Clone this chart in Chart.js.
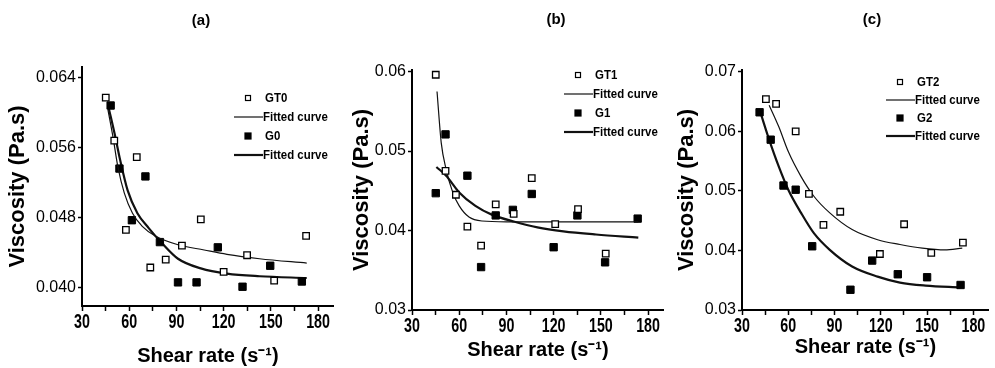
<!DOCTYPE html>
<html>
<head>
<meta charset="utf-8">
<script src="https://cdn.jsdelivr.net/npm/chart.js@4.4.1/dist/chart.umd.min.js"></script>
<style>
  html, body { margin: 0; padding: 0; background: #fff; }
  #wrap { position: relative; width: 995px; height: 368px; overflow: hidden; background: #fff; }
  #wrap canvas { position: absolute; top: 0; }
  .tag { position: absolute; font: bold 15px "Liberation Sans", Arial, sans-serif; color: #000; transform: translate(-50%, -50%); }
</style>
</head>
<body>
<div id="wrap">
  <canvas id="chartA" width="340" height="368" style="left:0px"></canvas>
  <canvas id="chartB" width="340" height="368" style="left:330px"></canvas>
  <canvas id="chartC" width="335" height="368" style="left:660px"></canvas>
  <div class="tag" style="left:201px;top:19px">(a)</div>
  <div class="tag" style="left:556px;top:18px">(b)</div>
  <div class="tag" style="left:872px;top:18px">(c)</div>
</div>
<script>
// shared x axis ticks (labels only on multiples of 30)
const xTicks = [30, 45, 60, 75, 90, 105, 120, 135, 150, 165, 180];

// panel (a)
const gt0X = [45.1, 50.5, 57.9, 64.8, 73.4, 83.2, 93.5, 105.5, 120.0, 134.9, 152.1, 172.4];
const gt0Y = [0.0617, 0.0568, 0.0466, 0.0549, 0.0423, 0.0432, 0.0448, 0.0478, 0.0418, 0.0437, 0.0408, 0.0459];
const g0X = [48.2, 53.8, 61.7, 70.3, 79.5, 91.0, 102.8, 116.3, 132.0, 149.6, 169.7];
const g0Y = [0.0608, 0.0536, 0.0477, 0.0527, 0.0452, 0.0406, 0.0406, 0.0446, 0.0401, 0.0425, 0.0407];
const fitGT0X = [46.5, 49.7, 52.8, 56.9, 62.1, 68.3, 76.6, 91.0, 107.6, 122.1, 142.8, 172.8];
const fitGT0Y = [0.0603, 0.0572, 0.0538, 0.0508, 0.0485, 0.0470, 0.0459, 0.0449, 0.0443, 0.0438, 0.0433, 0.0428];
const fitG0X = [47.0, 50.7, 54.2, 59.0, 65.2, 72.4, 80.7, 91.0, 105.5, 122.1, 142.8, 172.8];
const fitG0Y = [0.0605, 0.0576, 0.0546, 0.0511, 0.0485, 0.0468, 0.0451, 0.0433, 0.0422, 0.0416, 0.0413, 0.0411];
const yTicksA = [0.040, 0.048, 0.056, 0.064];
const yLabelsA = ['0.040', '0.048', '0.056', '0.064'];

// panel (b)
const gt1X = [45.1, 51.3, 57.9, 65.2, 73.9, 83.2, 94.6, 106.1, 121.0, 135.5, 153.1];
const gt1Y = [0.0596, 0.0475, 0.0445, 0.0405, 0.0381, 0.0433, 0.0421, 0.0466, 0.0408, 0.0427, 0.0371];
const g1X = [45.1, 51.3, 65.2, 73.9, 83.2, 94.1, 106.1, 120.0, 135.1, 152.7, 173.4];
const g1Y = [0.0447, 0.0521, 0.0469, 0.0354, 0.0419, 0.0426, 0.0446, 0.0379, 0.0419, 0.0360, 0.0415];
const fitGT1X = [45.9, 48.6, 51.7, 55.9, 60.0, 66.2, 74.5, 90.0, 120.0, 150.0, 173.8];
const fitGT1Y = [0.0575, 0.0510, 0.0477, 0.0448, 0.0431, 0.0417, 0.0412, 0.0411, 0.0411, 0.0411, 0.0411];
const fitG1X = [45.5, 51.7, 60.0, 70.3, 80.7, 95.2, 109.7, 126.2, 146.9, 173.8];
const fitG1Y = [0.0480, 0.0469, 0.0448, 0.0431, 0.0420, 0.0411, 0.0404, 0.0399, 0.0395, 0.0391];
const yTicksB = [0.03, 0.04, 0.05, 0.06];
const yLabelsB = ['0.03', '0.04', '0.05', '0.06'];

// panel (c)
const gt2X = [45.5, 52.1, 64.8, 73.4, 82.8, 93.7, 119.4, 135.1, 152.7, 173.2];
const gt2Y = [0.0654, 0.0646, 0.0600, 0.0495, 0.0443, 0.0465, 0.0394, 0.0444, 0.0396, 0.0413];
const g2X = [41.4, 48.6, 56.9, 64.8, 75.5, 100.3, 114.4, 131.0, 150.0, 171.7];
const g2Y = [0.0632, 0.0586, 0.0509, 0.0502, 0.0407, 0.0334, 0.0383, 0.0360, 0.0355, 0.0342];
const fitGT2X = [47.6, 53.8, 60.0, 68.3, 76.6, 86.9, 101.4, 117.9, 132.4, 146.9, 161.4, 172.8];
const fitGT2Y = [0.0644, 0.0608, 0.0566, 0.0524, 0.0491, 0.0463, 0.0435, 0.0418, 0.0410, 0.0404, 0.0401, 0.0404];
const fitG2X = [42.4, 47.6, 53.8, 60.0, 68.3, 76.6, 86.9, 101.4, 117.9, 132.4, 149.0, 171.7];
const fitG2Y = [0.0628, 0.0586, 0.0541, 0.0502, 0.0463, 0.0429, 0.0401, 0.0373, 0.0356, 0.0346, 0.0341, 0.0338];
const yTicksC = [0.03, 0.04, 0.05, 0.06, 0.07];
const yLabelsC = ['0.03', '0.04', '0.05', '0.06', '0.07'];

const SANS = '"Liberation Sans", Arial, sans-serif';

function pts(xs, ys) {
    return xs.map((x, i) => ({ x: x, y: ys[i] }));
}

function openSet(label, xs, ys) {
    return { label: label, data: pts(xs, ys), showLine: false, pointStyle: 'rect',
        pointRadius: 4.6, pointHoverRadius: 4.6, pointBorderWidth: 1.3,
        pointBackgroundColor: '#fff', pointBorderColor: '#000', backgroundColor: '#fff', borderColor: '#000' };
}
function filledSet(label, xs, ys) {
    return { label: label, data: pts(xs, ys), showLine: false, pointStyle: 'rect',
        pointRadius: 5.2, pointHoverRadius: 5.2, pointBorderWidth: 1,
        pointBackgroundColor: '#000', pointBorderColor: '#000', backgroundColor: '#000', borderColor: '#000' };
}
function fitSet(xs, ys, width) {
    return { label: 'Fitted curve', data: pts(xs, ys), showLine: true, pointRadius: 0,
        borderColor: '#111', borderWidth: width, cubicInterpolationMode: 'monotone', fill: false };
}

// condensed text, the original figure uses a narrow face
function squeezedText(ctx, text, x, y, sx) {
    ctx.save();
    ctx.translate(x, y);
    ctx.scale(sx, 1);
    ctx.fillText(text, 0, 0);
    ctx.restore();
}

// x tick labels drawn narrow at the scale's own tick positions
const narrowXTicks = {
    id: 'narrowXTicks',
    afterDraw(chart) {
        const sc = chart.scales.x;
        const ctx = chart.ctx;
        ctx.save();
        ctx.font = 'bold 21px ' + SANS;
        ctx.fillStyle = '#000';
        ctx.textAlign = 'center';
        ctx.textBaseline = 'middle';
        sc.ticks.forEach(t => {
            if (t.value % 30 !== 0) return;
            squeezedText(ctx, String(t.value), sc.getPixelForValue(t.value), sc.top + 16, 0.68);
        });
        ctx.restore();
    }
};

// legend drawn inside the plot, like the original figure
const panelLegend = {
    id: 'panelLegend',
    afterDatasetsDraw(chart, args, opts) {
        const ctx = chart.ctx;
        const area = chart.chartArea;
        const mx = area.left + opts.x;
        let y = area.top + opts.y;
        ctx.save();
        ctx.font = 'bold 13px ' + SANS;
        ctx.textBaseline = 'middle';
        ctx.textAlign = 'left';
        chart.data.datasets.forEach(ds => {
            if (ds.showLine) {
                ctx.strokeStyle = ds.borderColor;
                ctx.lineWidth = ds.borderWidth;
                ctx.beginPath();
                ctx.moveTo(mx - 14, y);
                ctx.lineTo(mx + 15, y);
                ctx.stroke();
            } else {
                const s = ds.pointBackgroundColor === '#000' ? 6 : 5;
                ctx.fillStyle = ds.pointBackgroundColor;
                ctx.fillRect(mx - s / 2, y - s / 2, s, s);
                ctx.strokeStyle = '#000';
                ctx.lineWidth = 1.2;
                ctx.strokeRect(mx - s / 2, y - s / 2, s, s);
            }
            ctx.fillStyle = '#000';
            squeezedText(ctx, ds.label, mx + (ds.showLine ? 15 : 17), y, 0.88);
            y += opts.gap;
        });
        ctx.restore();
    }
};

function makePanel(id, datasets, p) {
    const el = document.getElementById(id);
    return new Chart(el, {
        type: 'scatter',
        data: { datasets: datasets },
        plugins: [panelLegend, narrowXTicks],
        options: {
            responsive: false,
            animation: false,
            events: [],
            layout: { padding: { left: 0, right: p.padRight, top: p.padTop, bottom: 0 } },
            plugins: {
                legend: { display: false },
                tooltip: { enabled: false },
                panelLegend: { x: p.legX, y: p.legY, gap: p.legGap }
            },
            scales: {
                x: {
                    type: 'linear', min: 30, max: 190,
                    afterBuildTicks: s => { s.ticks = xTicks.map(v => ({ value: v })); },
                    afterFit: s => { s.height = p.xHeight; },
                    ticks: { display: false, autoSkip: false, maxRotation: 0 },
                    grid: { drawOnChartArea: false, drawTicks: true, tickLength: 5, tickColor: '#000', tickWidth: 1.5 },
                    border: { display: true, color: '#000', width: 2 },
                    title: {
                        display: true, text: 'Shear rate (s\u207B\u00B9)', color: '#000',
                        font: { family: SANS, size: 20, weight: 'bold' },
                        padding: { top: 0, bottom: p.xTitlePad }
                    }
                },
                y: {
                    type: 'linear', min: p.yMin, max: p.yMax,
                    afterBuildTicks: s => { s.ticks = p.yTicks.map(v => ({ value: v })); },
                    afterFit: s => { s.width = 82; },
                    ticks: {
                        autoSkip: false, padding: 2, color: '#000',
                        font: { family: SANS, size: 16 },
                        callback: (v, i) => p.yLabels[i]
                    },
                    grid: { drawOnChartArea: false, drawTicks: true, tickLength: 4, tickColor: '#000', tickWidth: 1.5 },
                    border: { display: true, color: '#000', width: 2 },
                    title: {
                        display: true, text: 'Viscosity (Pa.s)', color: '#000',
                        font: { family: SANS, size: 22, weight: 'bold' },
                        padding: { top: p.yTitlePad, bottom: 0 }
                    }
                }
            }
        }
    });
}

makePanel('chartA', [
    openSet('GT0', gt0X, gt0Y),
    fitSet(fitGT0X, fitGT0Y, 1.2),
    filledSet('G0', g0X, g0Y),
    fitSet(fitG0X, fitG0Y, 2.2)
], { padTop: 67, padRight: 5, xHeight: 62, yMin: 0.0379, yMax: 0.0652, yTicks: yTicksA, yLabels: yLabelsA,
     yTitlePad: 5, xTitlePad: 0, legX: 166, legY: 31, legGap: 19 });

makePanel('chartB', [
    openSet('GT1', gt1X, gt1Y),
    fitSet(fitGT1X, fitGT1Y, 1.2),
    filledSet('G1', g1X, g1Y),
    fitSet(fitG1X, fitG1Y, 2.2)
], { padTop: 70, padRight: 5, xHeight: 58, yMin: 0.03, yMax: 0.0602, yTicks: yTicksB, yLabels: yLabelsB,
     yTitlePad: 19, xTitlePad: 6, legX: 166, legY: 5, legGap: 19 });

makePanel('chartC', [
    openSet('GT2', gt2X, gt2Y),
    fitSet(fitGT2X, fitGT2Y, 1.2),
    filledSet('G2', g2X, g2Y),
    fitSet(fitG2X, fitG2Y, 2.2)
], { padTop: 70, padRight: 1, xHeight: 58, yMin: 0.03, yMax: 0.0703, yTicks: yTicksC, yLabels: yLabelsC,
     yTitlePad: 14, xTitlePad: 9, legX: 158, legY: 12, legGap: 18 });
</script>
</body>
</html>
